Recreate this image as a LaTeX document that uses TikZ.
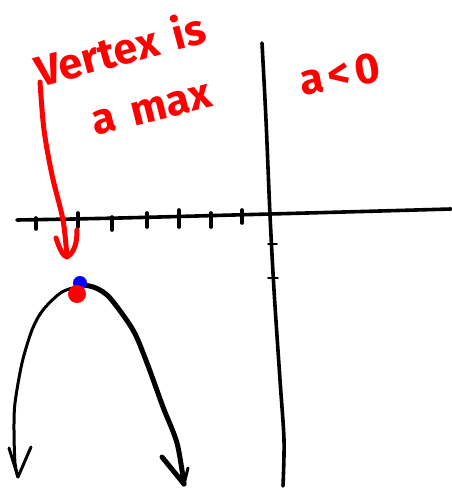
\documentclass[tikz,border=0pt]{standalone}
\usepackage{fontspec}
\setmainfont{Fira Sans}[WordSpace=1.6]
\newfontfamily\spacedfont{Fira Sans}[LetterSpace=12]
\begin{document}
\begin{tikzpicture}[x=1pt,y=-1pt,
  axis/.style={line width=3.6pt,line cap=round,line join=round},
  tick/.style={line width=3.6pt,line cap=round},
  smalltick/.style={line width=1.6pt,line cap=round},
  curveL/.style={line width=3pt,line cap=round,line join=round},
  curveR/.style={line width=5pt,line cap=round,line join=round},
  redpen/.style={draw=red,line width=5pt,line cap=round,line join=round},
  note/.style={text=red,font=\fontsize{43}{43}\selectfont\bfseries,inner sep=0pt}]
\useasboundingbox (0,0) rectangle (451,488);
\fill[white] (0,0) rectangle (451,488);
% coordinates
\coordinate (xl) at (17,220);
\coordinate (xo) at (270,214);
\coordinate (xr) at (451,209);
\coordinate (yt) at (262,43);
\coordinate (yb) at (283,486);
\coordinate (vtx) at (84,285);
\coordinate (lend) at (18,477);
\coordinate (rend) at (184,484);
% axes
\draw[axis] plot[smooth] coordinates {(17,220) (120,218) (270,214) (380,211) (451,209)};
\draw[axis] plot[smooth] coordinates {(262,43) (266,120) (270,215) (274,290) (280,380) (284,440) (283,486)};
% x ticks
\foreach \x/\a/\b in {36/218/229, 78/213/227, 112/217/230, 147/213/227, 179/210/227, 211/213/227, 242/210/223}
  \draw[tick] (\x,\a) -- (\x,\b);
% y ticks
\draw[smalltick] (268,244) -- (277,244);
\draw[smalltick] (268,278) -- (278,278);
% parabola
\draw[curveL] plot[smooth] coordinates {(vtx) (62,292) (43,310) (32,330) (22,363) (15,403) (14,430) (15,463) (lend)};
\draw[curveR] plot[smooth] coordinates {(vtx) (96,288) (110,298) (133,330) (147,363) (163,407) (177,443) (rend)};
% arrowheads
\coordinate (la1) at (9,448);
\coordinate (la2) at (31,447);
\draw[curveL] (la1) -- (lend) -- (la2);
\coordinate (ra1) at (162,457);
\coordinate (ra2) at (188,468);
\draw[curveR] (ra1) -- (rend);
\draw[curveL] (ra2) -- (rend);
% vertex dots
\fill[blue] (80,283) circle (7);
\fill[red] (77,294) ellipse (9 and 9);
% texts
\node[note,rotate=15] (t1) at (120,48) {Vertex is};
\node[note,rotate=14] (t2) at (152,110) {a max};
\node[note,rotate=10] (t3) at (340,74) {\spacedfont\bfseries a<0};
% red arrow
\coordinate (rs) at (40,82);
\coordinate (rt) at (67,257);
\draw[redpen] plot[smooth] coordinates {(rs) (44,130) (52,175) (63,220) (rt)};
\draw[redpen] (56,238) .. controls (60,250) and (63,256) .. (rt) .. controls (75,252) and (77,242) .. (77,230);
\end{tikzpicture}
\end{document}
